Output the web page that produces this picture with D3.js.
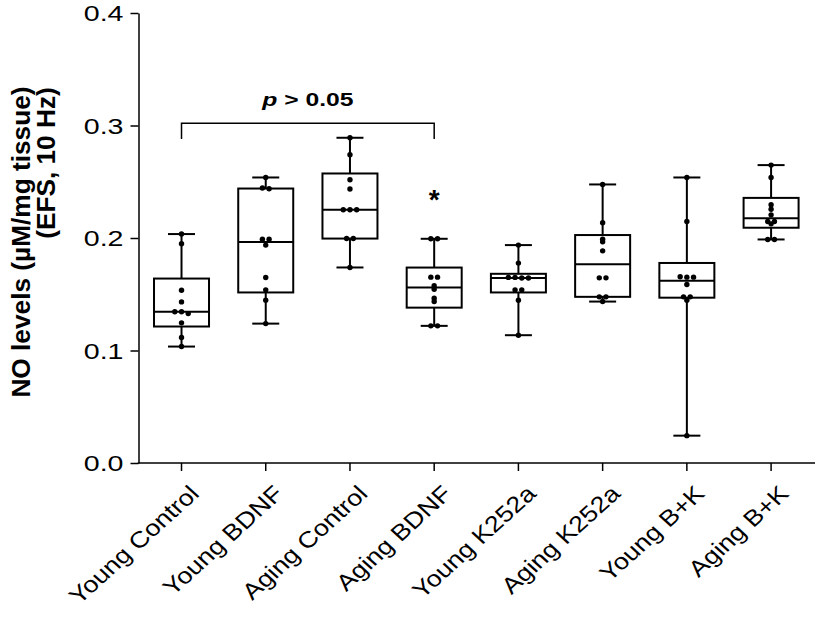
<!DOCTYPE html>
<html><head><meta charset="utf-8">
<script src="https://cdn.jsdelivr.net/npm/d3@7"></script>
<style>
body{margin:0;background:#fff}
svg{display:block}
text{font-family:Arial,"Liberation Sans",Helvetica,sans-serif;fill:#000}
</style>
</head><body>
<svg id="chart" width="815" height="617"></svg>
<script>
// ---------- data ----------
const categories = ["Young Control","Young BDNF","Aging Control","Aging BDNF","Young K252a","Aging K252a","Young B+K","Aging B+K"];
const youngControl = [0.2035,0.195,0.1536,0.1432,0.1345,0.1345,0.1328,0.1246,0.1115,0.1035];
const youngBDNF    = [0.2538,0.2445,0.2438,0.199,0.199,0.1937,0.1649,0.1539,0.1447,0.1239];
const agingControl = [0.2891,0.274,0.2518,0.2435,0.2251,0.2251,0.2251,0.1995,0.1995,0.1738];
const agingBDNF    = [0.1993,0.1993,0.1652,0.1652,0.1575,0.1545,0.1465,0.1435,0.1219,0.1219];
const youngK252a   = [0.1937,0.1777,0.165,0.1645,0.1645,0.165,0.1539,0.1539,0.1447,0.1136];
const agingK252a   = [0.2476,0.2135,0.199,0.1966,0.1886,0.1646,0.1646,0.1477,0.1477,0.1435];
const youngBK      = [0.2538,0.2147,0.1652,0.1655,0.1652,0.1587,0.1477,0.1477,0.1447,0.0243];
const agingBK      = [0.2648,0.2538,0.2296,0.2256,0.2206,0.2147,0.2147,0.2126,0.1987,0.1987];
const groupValues  = [youngControl,youngBDNF,agingControl,agingBDNF,youngK252a,agingK252a,youngBK,agingBK];
const yTicks = [0.0,0.1,0.2,0.3,0.4];
const yDomain = [0,0.4];
const yTitleLines = ["NO levels (µM/mg tissue)","(EFS, 10 Hz)"];
const bracketGroups = ["Young Control","Aging BDNF"];
const bracketLevels = [0.302,0.288];   // bar level, end level
const bracketLabel = ["p"," > 0.05"];
const starGroups = ["Aging BDNF"];

// ---------- layout ----------
const svg = d3.select("#chart");
const y = d3.scaleLinear().domain(yDomain).range([463,13]);
const x = d3.scaleBand().domain(categories).range([139.4,813.2]);
const cx = c => x(c) + x.bandwidth()/2;
const axisX = 138.5;

// Prism-style quartiles (position p*(n+1))
function quant(s,p){
  const h = (s.length+1)*p;
  if (h<=1) return s[0];
  if (h>=s.length) return s[s.length-1];
  const lo = Math.floor(h);
  return s[lo-1] + (h-lo)*(s[lo]-s[lo-1]);
}

// y axis
const yAxis = svg.append("g").attr("transform",`translate(${axisX},0)`)
  .call(d3.axisLeft(y).tickValues(yTicks).tickFormat(d3.format(".1f")).tickSize(8).tickSizeOuter(0));
yAxis.select(".domain").attr("stroke","#000").attr("stroke-width",1.5);
yAxis.selectAll(".tick line").attr("stroke","#000").attr("stroke-width",1.5);
yAxis.selectAll(".tick text").attr("x",0).attr("dy","0.36em")
  .attr("transform","translate(-15,0) scale(1.3,1)")
  .style("font-size","22px").style("font-family","Arial, 'Liberation Sans', sans-serif");

// x axis
const xAxis = svg.append("g").attr("transform","translate(0,463)")
  .call(d3.axisBottom(x).tickFormat("").tickSize(8).tickSizeOuter(0));
xAxis.select(".domain").remove();
xAxis.selectAll(".tick line").attr("stroke","#000").attr("stroke-width",1.5);
svg.append("line").attr("x1",axisX-0.75).attr("x2",815).attr("y1",463).attr("y2",463)
  .attr("stroke","#000").attr("stroke-width",1.5);

svg.append("g").selectAll("text").data(categories).join("text")
  .attr("transform",c=>`translate(${cx(c)+19},495) scale(1.1,1) rotate(-45) scale(1.1,1)`)
  .attr("text-anchor","end").style("font-size","22.5px").text(c=>c);

// y title
yTitleLines.forEach((t,i)=>{
  const pos = i===0 ? [30,242] : [55,163];
  svg.append("text").attr("transform",`translate(${pos[0]},${pos[1]}) rotate(-90) scale(1.05,1)`)
    .attr("text-anchor","middle").style("font-size","25px").style("font-weight","bold").text(t);
});

// boxes
const boxW = 55, capW = 27, r = 2.7, spacing = 6.7;
categories.forEach((c,gi)=>{
  const vals = groupValues[gi];
  const s = vals.slice().sort(d3.ascending);
  const q1 = quant(s,0.25), med = quant(s,0.5), q3 = quant(s,0.75);
  const mn = s[0], mx = s[s.length-1];
  const g = svg.append("g");
  const X = cx(c);
  const st = sel => sel.attr("stroke","#000").attr("stroke-width",2).attr("fill","none");
  g.append("line").attr("x1",X).attr("x2",X).attr("y1",y(mx)).attr("y2",y(q3)).call(st);
  g.append("line").attr("x1",X).attr("x2",X).attr("y1",y(q1)).attr("y2",y(mn)).call(st);
  g.append("line").attr("x1",X-capW/2).attr("x2",X+capW/2).attr("y1",y(mx)).attr("y2",y(mx)).call(st);
  g.append("line").attr("x1",X-capW/2).attr("x2",X+capW/2).attr("y1",y(mn)).attr("y2",y(mn)).call(st);
  g.append("rect").attr("x",X-boxW/2).attr("width",boxW).attr("y",y(q3)).attr("height",y(q1)-y(q3)).call(st);
  g.append("line").attr("x1",X-boxW/2).attr("x2",X+boxW/2).attr("y1",y(med)).attr("y2",y(med)).call(st);

  // swarm: cluster nearly-equal values side by side
  const desc = vals.slice().sort(d3.descending);
  const clusters = [];
  desc.forEach(v=>{
    const last = clusters[clusters.length-1];
    if (last && Math.abs(y(v)-y(last[0])) < 2.1) last.push(v); else clusters.push([v]);
  });
  const pts = [];
  clusters.forEach(cl=>cl.forEach((v,i)=>pts.push({v, dx:(i-(cl.length-1)/2)*spacing})));
  g.selectAll("circle").data(pts).join("circle")
    .attr("cx",d=>X+d.dx).attr("cy",d=>y(d.v)).attr("r",r).attr("fill","#000");
});

// bracket
const bx0 = cx(bracketGroups[0]), bx1 = cx(bracketGroups[1]);
svg.append("path")
  .attr("d",`M${bx0},${y(bracketLevels[1])}V${y(bracketLevels[0])}H${bx1}V${y(bracketLevels[1])}`)
  .attr("fill","none").attr("stroke","#000").attr("stroke-width",1.5);
const lbl = svg.append("text").attr("transform",`translate(${(bx0+bx1)/2},106) scale(1.3,1)`)
  .attr("text-anchor","middle").style("font-size","19px").style("font-weight","bold");
lbl.append("tspan").style("font-style","italic").text(bracketLabel[0]);
lbl.append("tspan").text(bracketLabel[1]);

// significance star
starGroups.forEach(c=>{
  const vals = groupValues[categories.indexOf(c)];
  svg.append("text").attr("x",cx(c)).attr("y",y(d3.max(vals))-30)
    .attr("text-anchor","middle").style("font-size","28px").style("font-weight","bold").text("*");
});
</script>
</body></html>
